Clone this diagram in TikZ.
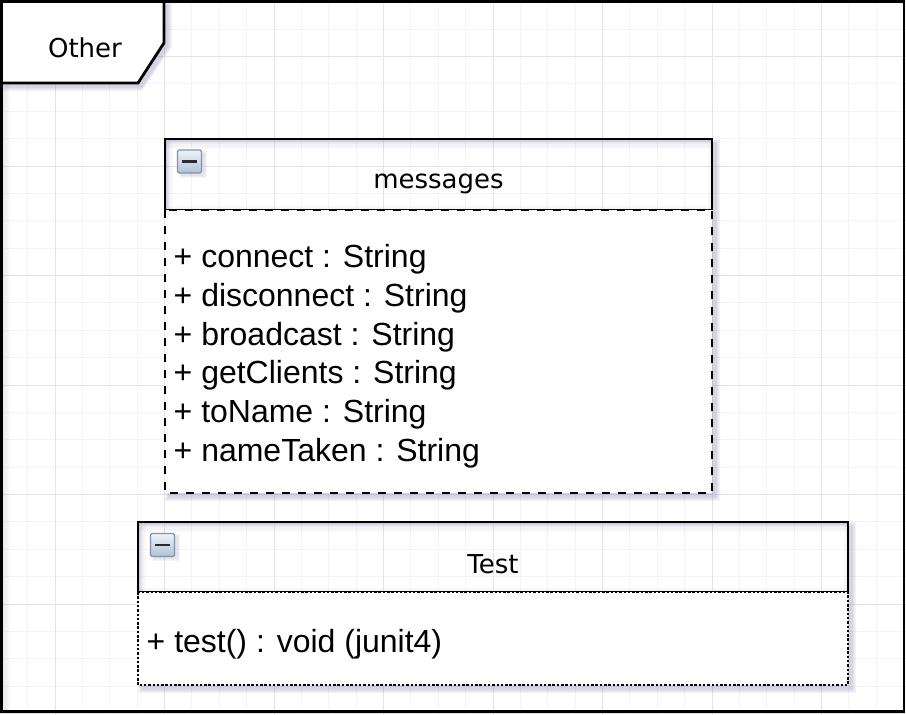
\documentclass[tikz,border=0pt]{standalone}
\usepackage{fontspec}
\setmainfont{Liberation Sans}
\newfontfamily\hdrfont{DejaVu Sans}
\newfontfamily\attrfont{Liberation Sans}
\definecolor{gridminor}{RGB}{244,244,244}
\definecolor{gridmajor}{RGB}{228,228,228}
\definecolor{shadowcol}{RGB}{96,96,150}
\definecolor{iconborder}{RGB}{128,148,168}
\definecolor{icontop}{RGB}{238,243,248}
\definecolor{iconbot}{RGB}{176,194,212}
\definecolor{iconbar}{RGB}{40,44,50}
\tikzset{
  minorline/.style={draw=gridminor, line width=1pt},
  majorline/.style={draw=gridmajor, line width=1pt},
  frameline/.style={draw=black, line width=2.8pt},
  hdrbox/.style={draw=black, line width=2.8pt},
  sepline/.style={draw=black, line width=0.8pt},
  dashbody/.style={draw=black, line width=2.6pt, dash pattern=on 8pt off 8pt},
  dotbody/.style={draw=black, line width=2.4pt, dash pattern=on 2.5pt off 1.8pt},
  shadowlayer/.style={fill=shadowcol, fill opacity=0.06, draw=none},
  glowlayer/.style={fill=shadowcol, fill opacity=0.035, draw=none},
  hdrtext/.style={font=\hdrfont\fontsize{26}{31}\selectfont, inner sep=0pt, anchor=base},
  attrtext/.style={font=\attrfont\fontsize{32}{39}\selectfont, inner sep=0pt, anchor=base west},
  minusicon/.style={draw=iconborder, line width=1.2pt, top color=icontop, bottom color=iconbot, minimum width=24pt, minimum height=23pt, inner sep=0pt, rounded corners=1.5pt},
  minusbar/.style={draw=iconbar, line width=2.6pt},
}
% soft drop shadow outside a rectangle (x1,y1)-(x2,y2), y downwards
\newcommand\softshadow[4]{%
  \foreach \k in {0,1,2,3,4}{%
    \fill[shadowlayer, even odd rule] ({#1+4-\k},{#2+4-\k}) rectangle ({#3+4+\k},{#4+4+\k}) (#1,#2) rectangle (#3,#4);
  }%
}
% inner glow of a header rectangle
\newcommand\innerglow[4]{%
  \foreach \k in {1,2,3,4}{%
    \fill[glowlayer] (#1,#2) rectangle (#3,{#2+2.5*\k});
    \fill[glowlayer] (#1,#2) rectangle ({#1+2*\k},#4);
  }%
  \foreach \k in {1,2}{%
    \fill[glowlayer] (#1,{#4-2*\k}) rectangle (#3,#4);
    \fill[glowlayer] ({#3-2*\k},#2) rectangle (#3,#4);
  }%
}
\begin{document}
\begin{tikzpicture}[x=1pt,y=-1pt]
\useasboundingbox (0,0) rectangle (906,715);
\fill[white] (0,0) rectangle (906,715);
% grid
\foreach \i in {0,...,33}{\draw[minorline] ({0.25+\i*27.375},0) -- ++(0,715);}
\foreach \j in {0,...,26}{\draw[minorline] (0,{1.75+\j*27.375}) -- ++(906,0);}
\foreach \i in {0,...,7}{\draw[majorline] ({55+\i*109.5},0) -- ++(0,715);}
\foreach \j in {0,...,6}{\draw[majorline] (0,{56.5+\j*109.5}) -- ++(906,0);}
% frame inner shade on the left
\foreach \k in {1,2,3,4}{\fill[glowlayer] (1.5,1.5) rectangle ({1.5+2.2*\k},712);}
% outer frame
\draw[frameline] (1.5,1.5) rectangle (904,711.5);
% tab "Other"
\foreach \k in {0,1,2,3,4}{%
  \fill[shadowlayer] ({1.5+4-\k},{1.5+4-\k}) -- ({164+4+\k},{1.5+4-\k}) -- ({164+4+\k},{43+4}) -- ({138+4},{83+4+\k}) -- ({1.5+4-\k},{83+4+\k}) -- cycle;
}
\draw[frameline, fill=white] (1.5,1.5) -- (164,1.5) -- (164,43) -- (138,83) -- (1.5,83) -- cycle;
\node[hdrtext] (othertxt) at (85,57) {Other};

% ---- class "messages" ----
\softshadow{165}{139}{712}{493}
\fill[white] (165,210) rectangle (712,493);
\innerglow{165}{139}{712}{210}
\draw[dashbody] (165,210) rectangle (712,493);
\draw[hdrbox] (165,210) -- (165,139) -- (712,139) -- (712,210);
\draw[sepline] (165,209) -- (712,209);
\foreach \k in {0,1,2}{\fill[shadowlayer] ({179+2-\k},{151+2-\k}) rectangle ({203+2+\k},{174+2+\k});}
\node[minusicon] (msgicon) at (189.5,161.5) {};
\draw[minusbar] ([xshift=-7.5pt]msgicon.center) -- ([xshift=7.5pt]msgicon.center);
\node[hdrtext] (msgname) at (438.5,188) {messages};
\node[attrtext] (a1) at (173.5,267.5) {+ connect : String};
\node[attrtext] (a2) at (173.5,306.3) {+ disconnect : String};
\node[attrtext] (a3) at (173.5,345.1) {+ broadcast : String};
\node[attrtext] (a4) at (173.5,383.9) {+ getClients : String};
\node[attrtext] (a5) at (173.5,422.7) {+ toName : String};
\node[attrtext] (a6) at (173.5,461.5) {+ nameTaken : String};

% ---- class "Test" ----
\softshadow{138}{522}{848}{685}
\fill[white] (138,592) rectangle (848,685);
\innerglow{138}{522}{848}{592}
\draw[dotbody] (138,592) rectangle (848,685);
\draw[hdrbox] (138,592) -- (138,522) -- (848,522) -- (848,592);
\draw[sepline] (138,591) -- (848,591);
\foreach \k in {0,1,2}{\fill[shadowlayer] ({152+2-\k},{534+2-\k}) rectangle ({176+2+\k},{557+2+\k});}
\node[minusicon] (testicon) at (162.5,545) {};
\draw[minusbar] ([xshift=-7.5pt]testicon.center) -- ([xshift=7.5pt]testicon.center);
\node[hdrtext] (testname) at (493,573) {Test};
\node[attrtext] (m1) at (146.5,652) {+ test() : void (junit4)};
\end{tikzpicture}
\end{document}
